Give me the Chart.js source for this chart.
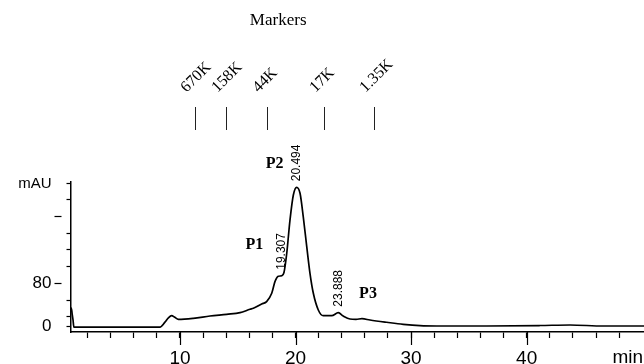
<!DOCTYPE html>
<html lang="en">
<head>
  <meta charset="UTF-8" />
  <title>Chromatogram with size markers</title>
  <script src="https://cdn.jsdelivr.net/npm/chart.js"></script>
  <style>
    html, body {
      margin: 0;
      padding: 0;
      background: #fff;
    }
    #chart-container {
      width: 644px;
      height: 364px;
    }
  </style>
</head>
<body>
  <div id="chart-container">
    <canvas id="chromChart"></canvas>
  </div>

  <script>
    // retention time (min) and signal (mAU)
    const times = [
      0.53, 0.6, 0.68, 0.75, 0.82, 1.0, 3.0, 6.0, 8.27, 8.7,
      9.0, 9.28, 9.55, 9.86, 11.15, 12.6, 14.04, 15.2, 16.06, 16.35,
      17.07, 17.5, 17.94, 18.22, 18.51, 18.8, 19.0, 19.24, 19.52, 19.81,
      20.1, 20.39, 20.67, 20.97, 21.25, 21.54, 21.97, 22.4, 23.13, 23.7,
      24.13, 24.71, 25.23, 25.75, 26.44, 27.89, 29.32, 30.77, 32.21, 36.54,
      41.15, 43.75, 46.63, 50.15
    ];
    const absorbance = [
      28, 34, 22, 12, -1, -1, -1, -1, -1, 8,
      16, 20, 17, 13.3, 15.2, 19.4, 22.6, 25.6, 31.9, 33.7,
      41.7, 46, 61.5, 83, 93, 94, 100, 135.6, 197, 243.5,
      257.8, 246.7, 203, 147.8, 98.5, 61.5, 30.6, 20, 20, 25.6,
      19.4, 13.9, 13.3, 14.4, 12, 7.8, 4, 1.5, 0.9, 0.9,
      1.8, 2.8, 0.9, 0.9
    ];

    const xTicks = [2, 4, 6, 8, 10, 12, 14, 16, 18, 20, 22, 24, 26, 28, 30, 32, 34, 36, 38, 40, 42, 44, 46, 48];
    const xLabelValues = [10, 20, 30, 40];
    const yTicks = [0, 18, 49, 80, 111, 142, 173, 204, 235, 264];
    const yTickLabels = ['0', '', '', '80', '', '', '', '', '', 'mAU'];
    const yDashValues = [80, 204];

    const markerTimes = [11.3, 13.98, 17.56, 22.49, 26.79];
    const markerLabels = ['670K', '158K', '44K', '17K', '1.35K'];

    const peakTimes = [18.8, 20.1, 23.7];
    const peakLabels = ['19.307', '20.494', '23.888'];

    const peakNames = ['P1', 'P2', 'P3'];
    const peakNameTimes = [16.43, 18.2, 26.27];
    const peakNameLevels = [151.5, 301, 60.5];

    const sans = '"Liberation Sans", Arial, sans-serif';
    const serif = '"Liberation Serif", "Times New Roman", serif';

    const decor = {
      id: 'decor',
      afterDraw(chart) {
        const c = chart.ctx;
        const xs = chart.scales.x;
        const ys = chart.scales.y;
        c.save();
        c.strokeStyle = '#000';
        c.fillStyle = '#000';

        // long ticks under the labelled minutes
        c.lineWidth = 1.2;
        xLabelValues.forEach(v => {
          const px = Math.round(xs.getPixelForValue(v)) + 0.5;
          c.beginPath();
          c.moveTo(px, xs.top);
          c.lineTo(px, xs.top + 13);
          c.stroke();
        });

        // loose dashes beside the y axis
        yDashValues.forEach(v => {
          const py = Math.round(ys.getPixelForValue(v)) + 0.5;
          c.beginPath();
          c.moveTo(ys.right - 16, py);
          c.lineTo(ys.right - 9, py);
          c.stroke();
        });

        // axis unit
        c.font = '19px ' + sans;
        c.textAlign = 'right';
        c.textBaseline = 'middle';
        c.fillText('min', xs.right - 1, xs.top + 25.5);

        // size markers
        c.font = '17px ' + serif;
        c.textAlign = 'center';
        c.textBaseline = 'alphabetic';
        c.fillText('Markers', xs.getPixelForValue(18.5), 25);

        c.strokeStyle = '#222';
        c.lineWidth = 1;
        c.font = '16px ' + serif;
        markerTimes.forEach((t, i) => {
          const px = Math.round(xs.getPixelForValue(t)) + 0.5;
          c.beginPath();
          c.moveTo(px, 107);
          c.lineTo(px, 130);
          c.stroke();
          c.save();
          c.translate(px - 9, 93);
          c.rotate(-Math.PI / 4);
          c.textAlign = 'left';
          c.fillText(markerLabels[i], 0, 0);
          c.restore();
        });

        // retention times over the peaks
        c.font = '12px ' + sans;
        peakTimes.forEach((t, i) => {
          const k = times.indexOf(t);
          const px = xs.getPixelForValue(t);
          const py = ys.getPixelForValue(absorbance[k]);
          c.save();
          c.translate(px, py - 6);
          c.rotate(-Math.PI / 2);
          c.textAlign = 'left';
          c.textBaseline = 'middle';
          c.fillText(peakLabels[i], 0, 0);
          c.restore();
        });

        // peak names
        c.font = 'bold 16px ' + serif;
        c.textAlign = 'center';
        c.textBaseline = 'middle';
        peakNames.forEach((p, i) => {
          c.fillText(p, xs.getPixelForValue(peakNameTimes[i]), ys.getPixelForValue(peakNameLevels[i]));
        });

        c.restore();
      }
    };

    const ctx = document.getElementById('chromChart').getContext('2d');
    const chart = new Chart(ctx, {
      type: 'line',
      data: {
        datasets: [{
          data: times.map((t, i) => ({ x: t, y: absorbance[i] })),
          borderColor: '#000',
          borderWidth: 1.7,
          pointRadius: 0,
          fill: false,
          cubicInterpolationMode: 'monotone'
        }]
      },
      options: {
        responsive: true,
        maintainAspectRatio: false,
        animation: false,
        devicePixelRatio: 1,
        layout: {
          padding: { top: 182, left: 0, right: 0, bottom: 0 }
        },
        plugins: {
          legend: { display: false },
          tooltip: { enabled: false },
          title: { display: false }
        },
        scales: {
          x: {
            type: 'linear',
            min: 0.53,
            max: 50.15,
            afterFit: s => { s.height = 32; },
            afterBuildTicks: s => { s.ticks = xTicks.map(v => ({ value: v })); },
            border: { display: true, color: '#000', width: 1.5 },
            grid: {
              drawOnChartArea: false,
              drawTicks: true,
              tickLength: 6,
              tickWidth: 1.2,
              tickColor: '#000'
            },
            ticks: {
              autoSkip: false,
              maxRotation: 0,
              padding: 9,
              color: '#000',
              font: { family: sans, size: 19 },
              callback: v => xLabelValues.includes(v) ? String(v) : ''
            }
          },
          y: {
            min: -10.2,
            max: 267.6,
            afterFit: s => { s.width = 70.5; },
            afterBuildTicks: s => { s.ticks = yTicks.map(v => ({ value: v })); },
            border: { display: true, color: '#000', width: 1.5 },
            grid: {
              drawOnChartArea: false,
              drawTicks: true,
              tickLength: 4,
              tickWidth: 1.2,
              tickColor: c => (c.tick && yDashValues.includes(c.tick.value)) ? 'rgba(0,0,0,0)' : '#000'
            },
            ticks: {
              autoSkip: false,
              padding: 15,
              color: '#000',
              font: c => ({ family: sans, size: (c.tick && c.tick.value === 264) ? 15 : 17 }),
              callback: (v, i) => yTickLabels[i]
            }
          }
        }
      },
      plugins: [decor]
    });
  </script>
</body>
</html>
